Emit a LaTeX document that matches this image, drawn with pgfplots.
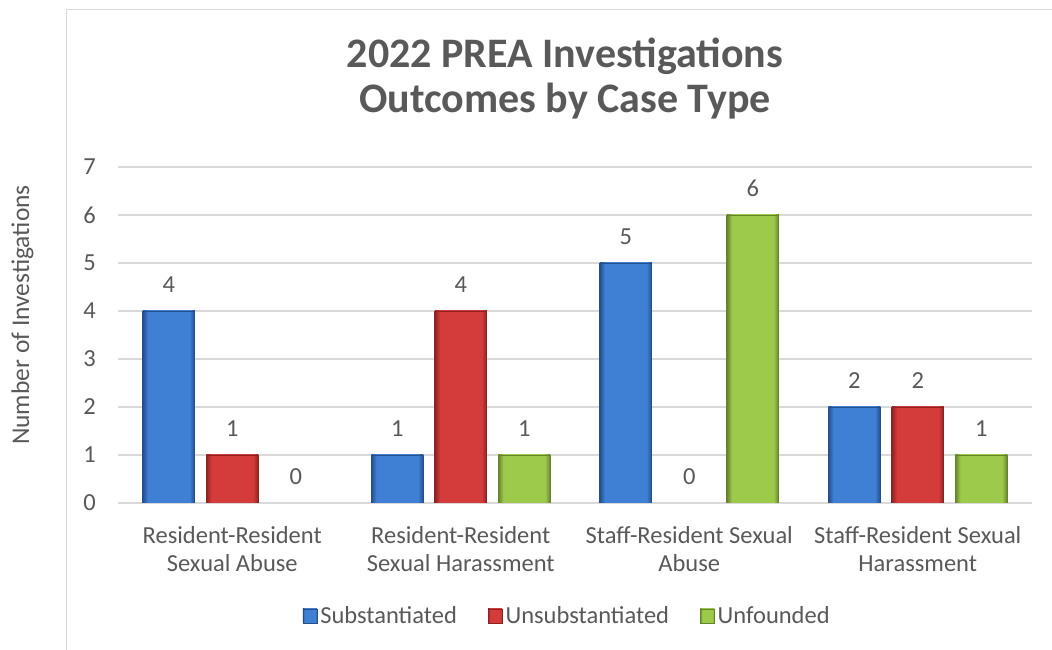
\documentclass[border=0pt]{standalone}
\usepackage{fontspec}
\setmainfont{Carlito}
\usepackage{pgfplots}
\pgfplotsset{compat=1.18}

\definecolor{txt}{HTML}{595959}
\definecolor{gridc}{HTML}{D9D9D9}
\definecolor{bMain}{HTML}{3F80D4}
\definecolor{bEdge}{HTML}{244F8A}
\definecolor{rMain}{HTML}{D43B3B}
\definecolor{rEdge}{HTML}{8C2323}
\definecolor{gMain}{HTML}{9DCA4B}
\definecolor{gEdge}{HTML}{66832C}

\pgfdeclarehorizontalshading{blueshade}{100bp}{color(0bp)=(bEdge); color(25bp)=(bEdge); color(30bp)=(bMain); color(70bp)=(bMain); color(75bp)=(bEdge); color(100bp)=(bEdge)}
\pgfdeclarehorizontalshading{redshade}{100bp}{color(0bp)=(rEdge); color(25bp)=(rEdge); color(30bp)=(rMain); color(70bp)=(rMain); color(75bp)=(rEdge); color(100bp)=(rEdge)}
\pgfdeclarehorizontalshading{greenshade}{100bp}{color(0bp)=(gEdge); color(25bp)=(gEdge); color(30bp)=(gMain); color(70bp)=(gMain); color(75bp)=(gEdge); color(100bp)=(gEdge)}

\newcommand{\lbl}{\fontsize{24.5}{28}\selectfont}

\pgfplotsset{
  sub/.style={draw=bEdge, line width=0.6pt, shade, shading=blueshade, bar shift=-63.5pt},
  uns/.style={draw=rEdge, line width=0.6pt, shade, shading=redshade, bar shift=0pt},
  unf/.style={draw=gEdge, line width=0.6pt, shade, shading=greenshade, bar shift=63.5pt},
}

\begin{document}
\begin{tikzpicture}[x=1pt,y=1pt]
\useasboundingbox (0,0) rectangle (1052,650);
\fill[white] (0,0) rectangle (1052,650);
\draw[gridc, line width=1.5pt] (66.5,0) -- (66.5,640.5) -- (1052,640.5);

\node[anchor=base, text=txt, font=\fontsize{42}{46}\selectfont\bfseries] at (565,582) {2022 PREA Investigations};
\node[anchor=base, text=txt, font=\fontsize{42}{46}\selectfont\bfseries] at (565,537) {Outcomes by Case Type};
\node[anchor=base, rotate=90, text=txt, font=\fontsize{25.5}{30}\selectfont] at (29,335) {Number of Investigations};

\begin{axis}[
  at={(118pt,147pt)}, anchor=south west,
  scale only axis, width=914pt, height=336pt,
  xmin=-0.5, xmax=3.5, ymin=0, ymax=7,
  ytick={0,1,2,3,4,5,6,7}, xtick={0,1,2,3},
  xticklabels={Resident-Resident\\Sexual Abuse, Resident-Resident\\Sexual Harassment, Staff-Resident Sexual\\Abuse, Staff-Resident Sexual\\Harassment},
  /pgf/number format/assume math mode=true,
  axis line style={draw=none},
  major tick length=0pt,
  ymajorgrids,
  grid style={gridc, line width=1.3pt},
  ticklabel style={text=txt, font=\lbl},
  yticklabel style={anchor=east, inner sep=0pt, xshift=-22pt},
  xticklabel style={align=center, anchor=north, inner sep=0pt, yshift=-23pt},
  ybar, bar width=52pt,
  nodes near coords,
  every node near coord/.append style={anchor=base, inner sep=0pt, yshift=18pt, font=\lbl, text=txt},
  legend style={at={(axis description cs:0.492,-0.336)}, anchor=center, draw=none, fill=none,
    legend columns=-1, font=\lbl, text=txt, nodes={inner sep=3pt},
    /tikz/every even column/.append style={column sep=28pt}},
  legend image code/.code={\path[#1] (0pt,-7pt) rectangle (14pt,7pt);},
]
% Substantiated
\addplot[sub] coordinates {(0,4)};
\addlegendentry{Substantiated}
% Unsubstantiated
\addplot[uns] coordinates {(0,1)};
\addlegendentry{Unsubstantiated}
% Unfounded
\addplot[unf] coordinates {(1,1)};
\addlegendentry{Unfounded}
\addplot[sub, forget plot] coordinates {(1,1)};
\addplot[sub, forget plot] coordinates {(2,5)};
\addplot[sub, forget plot] coordinates {(3,2)};
\addplot[uns, forget plot] coordinates {(1,4)};
\addplot[uns, forget plot] coordinates {(3,2)};
\addplot[unf, forget plot] coordinates {(2,6)};
\addplot[unf, forget plot] coordinates {(3,1)};
% zero values (labels only)
\addplot[forget plot, draw=none, fill=none, bar shift=0pt] coordinates {(2,0)};
\addplot[forget plot, draw=none, fill=none, bar shift=63.5pt] coordinates {(0,0)};
\end{axis}
\end{tikzpicture}
\end{document}
